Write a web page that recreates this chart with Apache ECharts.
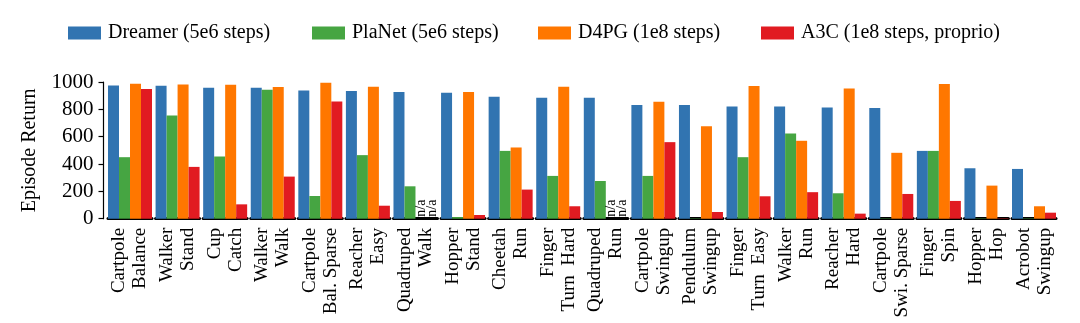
<!DOCTYPE html>
<html><head><meta charset="utf-8">
<script src="https://cdn.jsdelivr.net/npm/echarts@6/dist/echarts.min.js"></script>
<style>html,body{margin:0;padding:0;background:#fff}#c{width:1080px;height:323px}</style>
</head><body><div id="c"></div>
<script>
const tasks = ['Cartpole\nBalance', 'Walker\nStand', 'Cup\nCatch', 'Walker\nWalk', 'Cartpole\nBal. Sparse',
  'Reacher\nEasy', 'Quadruped\nWalk', 'Hopper\nStand', 'Cheetah\nRun', 'Finger\nTurn  Hard',
  'Quadruped\nRun', 'Cartpole\nSwingup', 'Pendulum\nSwingup', 'Finger\nTurn  Easy', 'Walker\nRun',
  'Reacher\nHard', 'Cartpole\nSwi. Sparse', 'Finger\nSpin', 'Hopper\nHop', 'Acrobot\nSwingup'];
const methods = ['Dreamer (5e6 steps)', 'PlaNet (5e6 steps)', 'D4PG (1e8 steps)', 'A3C (1e8 steps, proprio)'];
const dreamer = [975, 973, 958, 958, 938, 934, 927, 922, 892, 885, 885, 831, 831, 821, 821, 814, 809, 496, 369, 364];
const planet  = [450, 755, 455, 944, 166, 465, 237, 12, 496, 313, 276, 313, 3, 450, 623, 186, 3, 496, 3, 3];
const d4pg    = [988, 982, 980, 963, 995, 966, null, 927, 521, 966, null, 856, 677, 970, 570, 953, 482, 985, 242, 91];
const a3c     = [949, 379, 105, 308, 858, 95, null, 27, 213, 91, null, 560, 49, 164, 194, 37, 181, 130, 3, 44];
const yTicks = [0, 200, 400, 600, 800, 1000];

(function () {
const colors = ['#3174b1', '#46a542', '#ff7700', '#e11b21'];
const values = [dreamer, planet, d4pg, a3c];
const FONT = 'Liberation Serif';
const grids = [], xAxes = [], yAxes = [], series = [];
const left0 = 108, pitch = 47.58, gw = 44, gTop = 82, gH = 136.7;

tasks.forEach((t, i) => {
  grids.push({left: left0 + i * pitch, width: gw, top: gTop, height: gH});
  xAxes.push({type: 'category', gridIndex: i, data: [t],
    axisLine: {lineStyle: {color: '#000', width: 3}}, axisTick: {show: false},
    axisLabel: {interval: 0, rotate: 90, fontFamily: FONT, fontSize: 19, lineHeight: 21, color: '#000', margin: 9}});
  if (i === 0) {
    yAxes.push({type: 'value', gridIndex: i, min: yTicks[0], max: yTicks[yTicks.length - 1],
      interval: yTicks[1] - yTicks[0], offset: 4.5,
      axisLine: {show: true, lineStyle: {color: '#000', width: 1.2}},
      axisTick: {show: true, length: 5, lineStyle: {color: '#000', width: 1.2}},
      axisLabel: {fontFamily: FONT, fontSize: 21, color: '#000', margin: 10, formatter: v => String(v)},
      splitLine: {show: false},
      name: 'Episode Return', nameLocation: 'middle', nameGap: 64, nameRotate: 90,
      nameTextStyle: {fontFamily: FONT, fontSize: 20, color: '#000'}});
  } else {
    yAxes.push({type: 'value', gridIndex: i, min: 0, max: 1000, interval: 200, show: false, splitLine: {show: false}});
  }
  values.forEach((arr, k) => {
    const v = arr[i];
    const item = v === null ? {value: 0, label: {show: true, formatter: 'n/a', position: 'top', distance: 2,
        rotate: 90, align: 'left', verticalAlign: 'middle', fontFamily: FONT, fontSize: 14, color: '#000'}} : v;
    series.push({type: 'bar', name: methods[k], xAxisIndex: i, yAxisIndex: i,
      barGap: '0%', barCategoryGap: '0%', itemStyle: {color: colors[k]}, data: [item]});
  });
});

const legendLefts = [63, 307, 533, 756];
const legends = methods.map((m, k) => ({data: [m], left: legendLefts[k], top: 18, itemWidth: 33, itemHeight: 13,
  icon: 'rect', selectedMode: false, textStyle: {fontFamily: FONT, fontSize: 20, color: '#000', padding: [0, 0, 0, 2]}}));

const chart = echarts.init(document.getElementById('c'), null, {renderer: 'canvas'});
chart.setOption({animation: false, color: colors, textStyle: {fontFamily: FONT},
  legend: legends, grid: grids, xAxis: xAxes, yAxis: yAxes, series: series});
})();
</script></body></html>
